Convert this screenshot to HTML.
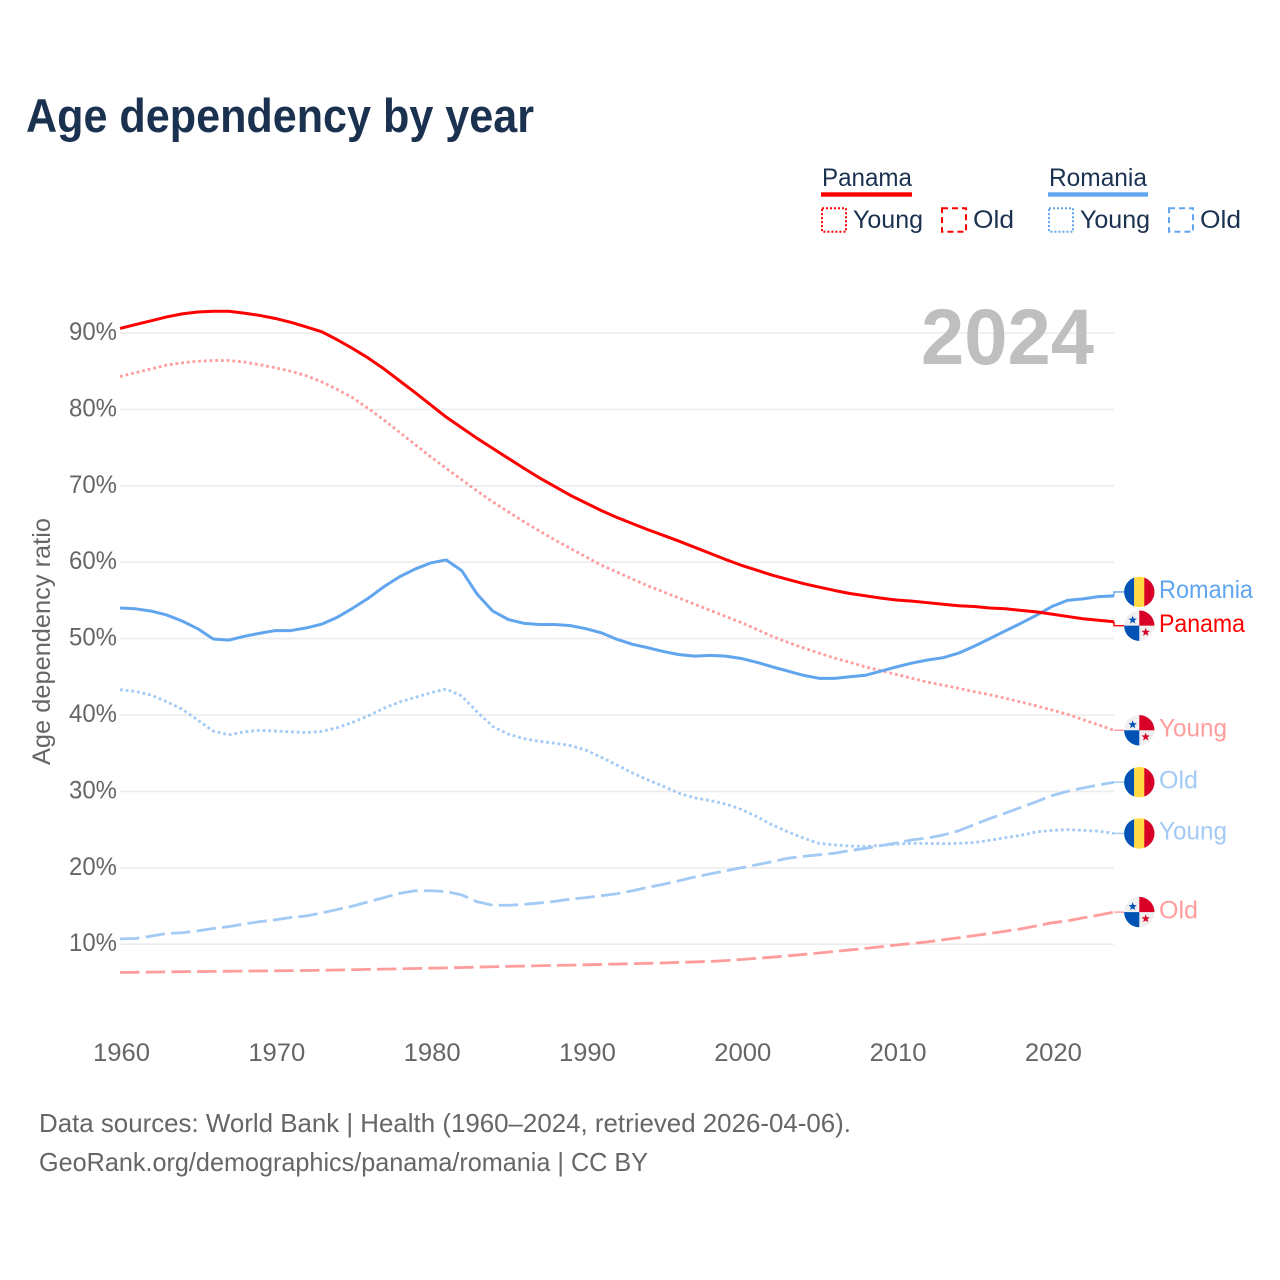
<!DOCTYPE html>
<html lang="en">
<head>
<meta charset="utf-8">
<title>Age dependency by year</title>
<style>
html,body{margin:0;padding:0;background:#fff;}
svg{display:block;font-family:"Liberation Sans",sans-serif;}
</style>
</head>
<body>
<svg id="chart" xmlns="http://www.w3.org/2000/svg" width="1280" height="1280" viewBox="0 0 1280 1280">
  <rect x="0" y="0" width="1280" height="1280" fill="#fff"/>
  <text x="26" y="132" font-size="47" font-weight="700" fill="#1a3150" textLength="508" lengthAdjust="spacingAndGlyphs">Age dependency by year</text>

  <g>
    <text x="822" y="186" font-size="25" fill="#1a3150" textLength="90" lengthAdjust="spacingAndGlyphs">Panama</text>
    <rect x="821" y="192.3" width="91" height="4.4" fill="#ff0000"/>
    <rect x="822" y="208.3" width="24" height="23.4" fill="none" stroke="#ff0000" stroke-width="2" stroke-dasharray="2 2"/>
    <text x="853" y="228" font-size="25" fill="#1a3150" textLength="70" lengthAdjust="spacingAndGlyphs">Young</text>
    <rect x="942" y="208.3" width="24" height="23.4" fill="none" stroke="#ff0000" stroke-width="2" stroke-dasharray="6 4"/>
    <text x="973" y="228" font-size="25" fill="#1a3150" textLength="41" lengthAdjust="spacingAndGlyphs">Old</text>
    <text x="1049" y="186" font-size="25" fill="#1a3150" textLength="98" lengthAdjust="spacingAndGlyphs">Romania</text>
    <rect x="1048" y="192.3" width="100" height="4.4" fill="#60a5ee"/>
    <rect x="1049" y="208.3" width="24" height="23.4" fill="none" stroke="#60a5ee" stroke-width="2" stroke-dasharray="2 2"/>
    <text x="1080" y="228" font-size="25" fill="#1a3150" textLength="70" lengthAdjust="spacingAndGlyphs">Young</text>
    <rect x="1169" y="208.3" width="24" height="23.4" fill="none" stroke="#60a5ee" stroke-width="2" stroke-dasharray="6 4"/>
    <text x="1200" y="228" font-size="25" fill="#1a3150" textLength="41" lengthAdjust="spacingAndGlyphs">Old</text>
  </g>

  <g id="grid"></g>
  <text x="921" y="364" font-size="79" font-weight="700" fill="#bfbfbf" textLength="173" lengthAdjust="spacingAndGlyphs">2024</text>
  <g id="yticks"></g>
  <g id="xticks"></g>
  <text transform="translate(50,765) rotate(-90)" x="0" y="0" font-size="25" fill="#666" textLength="247" lengthAdjust="spacingAndGlyphs">Age dependency ratio</text>
  <g id="series"></g>
  <g id="endlabels"></g>

  <text x="39" y="1132" font-size="26" fill="#666" textLength="812" lengthAdjust="spacingAndGlyphs">Data sources: World Bank | Health (1960–2024, retrieved 2026-04-06).</text>
  <text x="39" y="1171" font-size="26" fill="#666" textLength="609" lengthAdjust="spacingAndGlyphs">GeoRank.org/demographics/panama/romania | CC BY</text>
</svg>
<script>
const years = [1960,1961,1962,1963,1964,1965,1966,1967,1968,1969,1970,1971,1972,1973,1974,1975,1976,1977,1978,1979,1980,1981,1982,1983,1984,1985,1986,1987,1988,1989,1990,1991,1992,1993,1994,1995,1996,1997,1998,1999,2000,2001,2002,2003,2004,2005,2006,2007,2008,2009,2010,2011,2012,2013,2014,2015,2016,2017,2018,2019,2020,2021,2022,2023,2024];
const panamaTotal = [90.6,91.1,91.6,92.1,92.5,92.75,92.85,92.85,92.6,92.3,91.9,91.4,90.8,90.15,89.1,87.95,86.7,85.3,83.75,82.2,80.6,79,77.6,76.2,74.9,73.6,72.3,71.05,69.9,68.75,67.75,66.75,65.85,65.05,64.25,63.5,62.75,61.95,61.15,60.35,59.6,58.95,58.3,57.75,57.2,56.75,56.3,55.9,55.6,55.3,55.05,54.9,54.7,54.5,54.3,54.2,54,53.9,53.7,53.5,53.2,52.9,52.6,52.4,52.2];
const panamaYoung = [84.3,84.8,85.3,85.8,86.1,86.3,86.4,86.4,86.2,85.85,85.45,85,84.4,83.6,82.6,81.5,80.1,78.6,77,75.4,73.8,72.3,70.8,69.3,67.9,66.6,65.3,64.1,62.9,61.8,60.7,59.6,58.7,57.8,56.9,56.1,55.3,54.5,53.7,52.9,52.1,51.2,50.3,49.5,48.8,48.1,47.45,46.9,46.3,45.8,45.3,44.8,44.3,43.9,43.5,43.05,42.65,42.2,41.7,41.2,40.65,40.1,39.4,38.7,38];
const panamaOld = [6.3,6.32,6.35,6.38,6.4,6.42,6.44,6.46,6.48,6.5,6.52,6.54,6.56,6.59,6.62,6.66,6.7,6.74,6.78,6.82,6.86,6.9,6.95,7,7.05,7.1,7.14,7.18,7.22,7.26,7.3,7.35,7.4,7.45,7.5,7.55,7.62,7.68,7.75,7.85,8,8.15,8.3,8.48,8.66,8.85,9.05,9.25,9.45,9.67,9.9,10.1,10.3,10.58,10.85,11.12,11.4,11.7,12,12.4,12.8,13.05,13.45,13.8,14.2];
const romaniaTotal = [54,53.9,53.6,53.1,52.3,51.3,49.95,49.8,50.3,50.7,51.05,51.05,51.4,51.9,52.8,54,55.3,56.8,58.1,59.1,59.9,60.3,58.9,55.8,53.6,52.5,52,51.85,51.85,51.7,51.3,50.75,49.9,49.25,48.8,48.3,47.9,47.7,47.8,47.7,47.4,46.9,46.3,45.75,45.2,44.8,44.8,45,45.2,45.75,46.3,46.8,47.2,47.5,48.1,49,50,51,52,53.05,54.2,55,55.2,55.5,55.6];
const romaniaYoung = [43.3,43.1,42.6,41.75,40.75,39.35,37.9,37.4,37.8,38,37.9,37.8,37.7,37.85,38.35,39.05,39.9,40.9,41.7,42.3,42.9,43.4,42.5,40.4,38.5,37.5,36.9,36.55,36.3,36,35.4,34.45,33.45,32.4,31.5,30.65,29.75,29.15,28.8,28.35,27.65,26.7,25.6,24.7,23.9,23.2,23,22.85,22.8,22.95,23.1,23.2,23.2,23.15,23.2,23.3,23.6,23.95,24.25,24.7,24.9,25,24.9,24.8,24.5];
const romaniaOld = [10.7,10.75,11.05,11.4,11.5,11.75,12.05,12.3,12.65,12.95,13.2,13.5,13.7,14.1,14.55,15,15.55,16.1,16.65,17,17,16.9,16.45,15.55,15.1,15.1,15.2,15.4,15.6,15.9,16.1,16.35,16.6,17,17.45,17.85,18.3,18.8,19.2,19.6,20,20.4,20.8,21.25,21.5,21.7,21.9,22.25,22.55,22.9,23.25,23.65,23.9,24.3,24.85,25.65,26.45,27.15,27.9,28.65,29.45,30,30.45,30.85,31.2];
const yTickValues = [10,20,30,40,50,60,70,80,90];
const xTickValues = [1960,1970,1980,1990,2000,2010,2020];

const NS = 'http://www.w3.org/2000/svg';
function x(year){ return 120 + (year - 1960) * (994 / 64); }
function y(v){ return 944.2 - (v - 10) * 7.64; }
function mk(tag, attrs, parent){
  const el = document.createElementNS(NS, tag);
  for (const k in attrs) el.setAttribute(k, attrs[k]);
  parent.appendChild(el);
  return el;
}

const gridG = document.getElementById('grid');
const yG = document.getElementById('yticks');
const xG = document.getElementById('xticks');
const seriesG = document.getElementById('series');
const labelsG = document.getElementById('endlabels');

yTickValues.forEach(function(v){
  const line = mk('line', {x1:120, x2:1114, y1:y(v), y2:y(v), stroke:'#ececec', 'stroke-width':1.6}, gridG);
  
  
  const t = mk('text', {x:69, y:y(v)+7, 'font-size':25, fill:'#666', textLength:48, lengthAdjust:'spacingAndGlyphs'}, yG);
  t.textContent = v + '%';
  
  
});

xTickValues.forEach(function(yr){
  const t = mk('text', {x:x(yr)-27, y:1061, 'font-size':25, fill:'#666', textLength:57, lengthAdjust:'spacingAndGlyphs'}, xG);
  t.textContent = yr;
  
  
});

const seriesList = [
  {id:'panama-old', values:panamaOld, color:'#ff9c9c', width:2.8, dash:'19.5 6.2', label:'Old', flag:'pa', w:39},
  {id:'romania-old', values:romaniaOld, color:'#a2caf5', width:2.8, dash:'19.5 6.2', label:'Old', flag:'ro', w:39},
  {id:'romania-young', values:romaniaYoung, color:'#a2caf5', width:2.8, dash:'2.8 2.9', label:'Young', flag:'ro', w:68},
  {id:'panama-young', values:panamaYoung, color:'#ff9c9c', width:2.8, dash:'2.8 2.9', label:'Young', flag:'pa', w:68},
  {id:'romania-total', values:romaniaTotal, color:'#60a5ee', width:3, dash:null, label:'Romania', flag:'ro', w:94},
  {id:'panama-total', values:panamaTotal, color:'#ff0000', width:3, dash:null, label:'Panama', flag:'pa', w:86}
];

seriesList.forEach(function(s){
  const d = s.values.map(function(v, i){ return (i ? 'L' : 'M') + x(years[i]).toFixed(2) + ' ' + y(v).toFixed(2); }).join(' ');
  const attrs = {d:d, fill:'none', stroke:s.color, 'stroke-width':s.width, 'stroke-linejoin':'round'};
  if (s.dash) attrs['stroke-dasharray'] = s.dash;
  const path = mk('path', attrs, seriesG);
  
  
});

/* End labels: start at the last value, then push colliding neighbours apart */
const MIN_GAP = 33.7;
const placed = seriesList.map(function(s){
  return {s:s, endY:y(s.values[s.values.length - 1]), labelY:y(s.values[s.values.length - 1])};
}).sort(function(a, b){ return a.endY - b.endY; });
for (let i = 1; i < placed.length; i++){
  const gap = placed[i].labelY - placed[i-1].labelY;
  if (gap < MIN_GAP){
    const push = (MIN_GAP - gap) / 2;
    placed[i-1].labelY -= push;
    placed[i].labelY += push;
  }
}

function star(cx, cy, r){
  const pts = [];
  for (let i = 0; i < 10; i++){
    const rad = i % 2 ? r * 0.42 : r;
    const a = -Math.PI / 2 + i * Math.PI / 5;
    pts.push((cx + rad * Math.cos(a)).toFixed(2) + ',' + (cy + rad * Math.sin(a)).toFixed(2));
  }
  return pts.join(' ');
}

const defs = mk('defs', {}, labelsG);
mk('clipPath', {id:'flag-clip'}, defs).appendChild(
  (function(){ const c = document.createElementNS(NS, 'circle'); c.setAttribute('cx', 0); c.setAttribute('cy', 0); c.setAttribute('r', 15.2); return c; })()
);

function drawFlag(kind, cy, parent){
  const g = mk('g', {transform:'translate(1139.3,' + cy.toFixed(2) + ')', 'clip-path':'url(#flag-clip)'}, parent);
  if (kind === 'ro'){
    mk('rect', {x:-16, y:-16, width:11, height:32, fill:'#0052b4'}, g);
    mk('rect', {x:-5.2, y:-16, width:10.4, height:32, fill:'#ffda44'}, g);
    mk('rect', {x:5, y:-16, width:11, height:32, fill:'#d80027'}, g);
  } else {
    mk('rect', {x:-16, y:-16, width:32, height:32, fill:'#f0f0f0'}, g);
    mk('rect', {x:0, y:-16, width:16, height:16, fill:'#d80027'}, g);
    mk('rect', {x:-16, y:0, width:16, height:16, fill:'#0052b4'}, g);
    mk('polygon', {points:star(-6.6, -5.6, 4.4), fill:'#0052b4'}, g);
    mk('polygon', {points:star(6.4, 6.6, 4.4), fill:'#d80027'}, g);
  }
  return g;
}

placed.forEach(function(p){
  const s = p.s;
  const stub = mk('path', {d:'M1114 ' + p.endY.toFixed(2) + ' V' + p.labelY.toFixed(2) + ' H1124', fill:'none', stroke:s.color, 'stroke-width':1.4}, labelsG);
  
  
  const flag = drawFlag(s.flag, p.labelY, labelsG);
  
  
  const t = mk('text', {x:1159, y:(p.labelY + 6.2).toFixed(2), 'font-size':25, fill:s.color, textLength:s.w, lengthAdjust:'spacingAndGlyphs'}, labelsG);
  t.textContent = s.label;
  
  
});
</script>
</body>
</html>
